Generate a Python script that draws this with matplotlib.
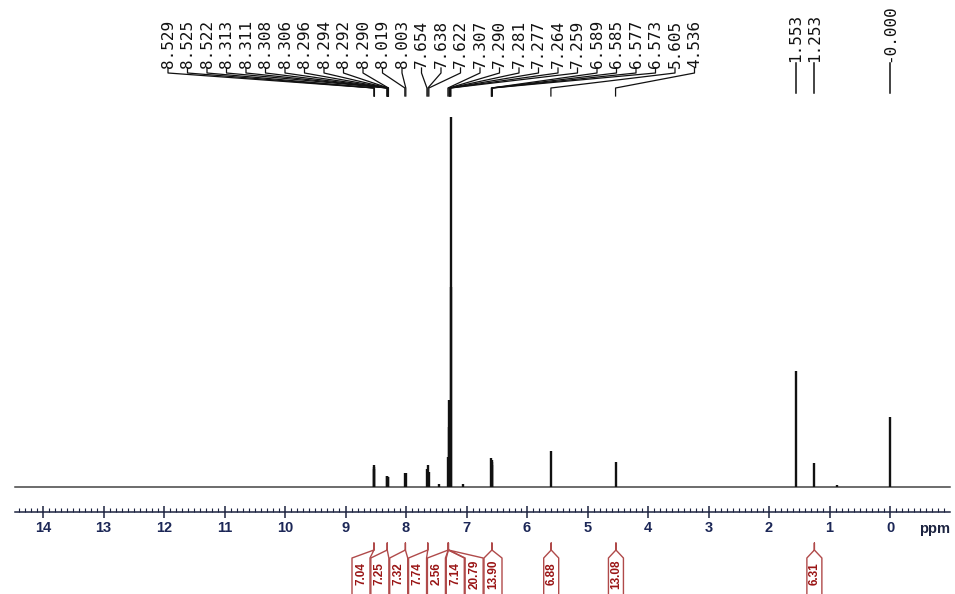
import numpy as np
import matplotlib.pyplot as plt
from matplotlib.ticker import FixedLocator

# peak positions (ppm) and heights (% of the tallest line)
PEAK_PPM = [8.529, 8.525, 8.522, 8.313, 8.306, 8.294, 8.290, 8.019, 8.003,
            7.654, 7.638, 7.622, 7.45, 7.307, 7.290, 7.281, 7.277, 7.264, 7.259,
            7.06, 6.589, 6.585, 6.577, 6.573, 5.605, 4.536, 1.553, 1.253, 0.88, 0.000]
PEAK_HEIGHT = [5.9, 5.4, 4.9, 3.0, 3.0, 2.8, 2.8, 3.8, 3.8,
               4.9, 5.9, 4.1, 0.8, 8.1, 16.2, 23.5, 21.6, 100.0, 54.0,
               0.8, 7.8, 7.3, 6.8, 5.9, 9.7, 6.8, 31.4, 6.5, 0.5, 18.9]

# peak-pick labels
LABELS_LEFT = ['8.529', '8.525', '8.522', '8.313', '8.311', '8.308', '8.306', '8.296',
               '8.294', '8.292', '8.290', '8.019', '8.003', '7.654', '7.638', '7.622',
               '7.307', '7.290', '7.281', '7.277', '7.264', '7.259', '6.589', '6.585',
               '6.577', '6.573', '5.605', '4.536']
LABELS_RIGHT = ['1.553', '1.253', '-0.000']

# integrals: value and the ppm they belong to
INT_VALUES = ['7.04', '7.25', '7.32', '7.74', '2.56', '7.14', '20.79', '13.90',
              '6.88', '13.08', '6.31']
INT_PPM = [8.53, 8.31, 8.01, 7.64, 7.30, 7.30, 7.30, 6.58, 5.60, 4.53, 1.25]

W, H = 955, 594
ZERO_PX = 890.0
PX_PER_PPM = 60.5
BASE_Y = 487
LINE_COLOR = '#111111'
INT_LINE = '#b04a4a'
INT_TEXT = '#9a1515'


def px(x):
    # horizontal pixel -> ppm
    return (ZERO_PX - x) / PX_PER_PPM


def to_px(p):
    return ZERO_PX - p * PX_PER_PPM


def draw_spectrum(ax):
    ax.plot([px(15), px(950)], [BASE_Y, BASE_Y], color='#444444', lw=1.1)
    tops = BASE_Y - np.array(PEAK_HEIGHT) * 3.7
    ax.vlines(PEAK_PPM, BASE_Y, tops, color=LINE_COLOR, lw=1.7)


def draw_peak_labels(ax):
    font = dict(family='DejaVu Sans Mono', fontsize=11.5, rotation=90,
                ha='center', va='bottom', color='#111111')
    label_px = np.linspace(168, 168 + 19.5 * 27, len(LABELS_LEFT))
    for lab, lx in zip(LABELS_LEFT, label_px):
        p = float(lab)
        ax.text(px(lx), 68, lab, **font)
        ax.plot([px(lx), px(lx), p, p], [68, 73, 88, 96], color=LINE_COLOR, lw=0.9)
    for lab in LABELS_RIGHT:
        p = abs(float(lab))
        ax.text(p, 62, lab, **font)
        ax.plot([p, p], [63, 93], color=LINE_COLOR, lw=1.1)


def draw_integrals(ax):
    n_group = 8
    centers = list(np.linspace(361, 493, n_group)) + [to_px(p) for p in INT_PPM[n_group:]]
    for i, (val, p) in enumerate(zip(INT_VALUES, INT_PPM)):
        a = to_px(p)
        c = centers[i]
        hw = 9.0 if i < n_group else 7.5
        xs = [px(c - hw), px(c - hw), px(a), px(a), px(a), px(c + hw), px(c + hw)]
        ys = [H, 558, 550, 543, 550, 558, H]
        ax.plot(xs, ys, color=INT_LINE, lw=1.0, clip_on=False)
        ax.text(px(c), 574, val, rotation=90, ha='center', va='center',
                fontsize=8.5, fontweight='bold', color=INT_TEXT,
                family='Liberation Sans')


def draw_ruler(fig):
    rax = fig.add_axes([0, (H - 512) / H, 1, 0.001])
    rax.set_xlim(px(0), px(W))
    rax.patch.set_alpha(0)
    for side in ['top', 'left', 'right']:
        rax.spines[side].set_visible(False)
    rax.spines['bottom'].set_bounds(px(15), px(950))
    rax.spines['bottom'].set_linewidth(1.1)
    rax.spines['bottom'].set_color('#1c2340')
    rax.set_yticks([])
    rax.xaxis.set_major_locator(FixedLocator(range(0, 15)))
    rax.xaxis.set_minor_locator(FixedLocator(np.round(np.arange(-0.9, 14.45, 0.1), 2)))
    rax.tick_params(axis='x', which='major', direction='inout', length=8, width=1.1,
                    color='#1c2340', pad=2.5, labelsize=10.5, labelcolor='#1c2757')
    rax.tick_params(axis='x', which='minor', direction='in', length=3, width=0.8,
                    color='#1c2340')
    for t in rax.get_xticklabels():
        t.set_fontweight('bold')
        t.set_family('Liberation Sans')


def main():
    fig = plt.figure(figsize=(W / 100, H / 100), dpi=100)
    ax = fig.add_axes([0, 0, 1, 1])
    ax.set_xlim(px(0), px(W))
    ax.set_ylim(H, 0)
    ax.axis('off')

    draw_spectrum(ax)
    draw_peak_labels(ax)
    draw_integrals(ax)
    draw_ruler(fig)
    ax.text(px(935), 529, 'ppm', ha='center', va='center', fontsize=10.5,
            fontweight='bold', family='Liberation Sans', color='#1c2340')

    fig.savefig('out.png', dpi=100)


if __name__ == '__main__':
    main()
